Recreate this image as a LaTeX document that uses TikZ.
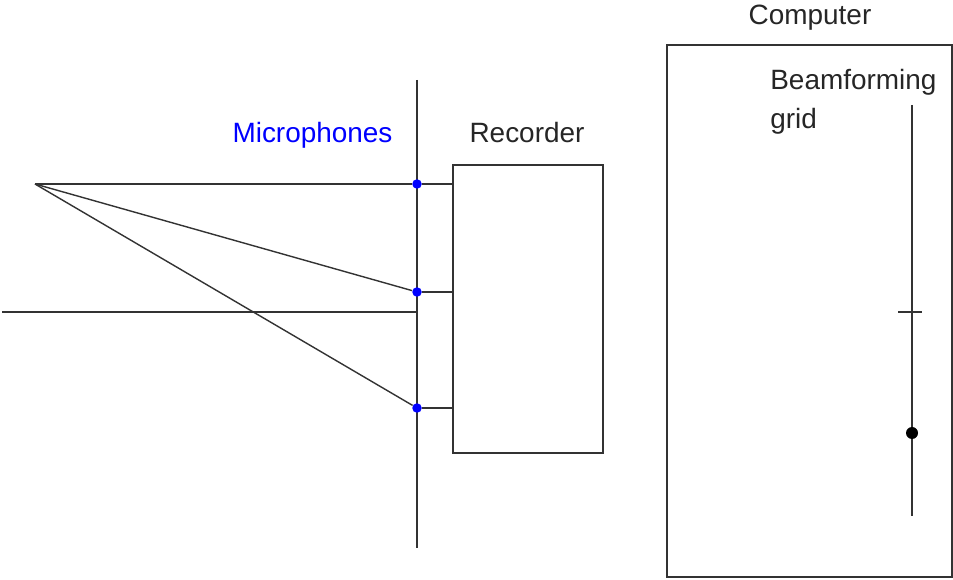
\documentclass[tikz,border=0pt]{standalone}
\usepackage{fontspec}
\setmainfont{Liberation Sans}
\tikzset{
  wire/.style={draw=black!80, line width=0.8pt},
  mic/.style={circle, fill=blue, inner sep=0pt, minimum size=0.19cm},
  box/.style={draw=black!80, line width=0.8pt, rectangle, inner sep=0pt},
  lbl/.style={font=\fontsize{15.9}{22}\selectfont, text=black!85, inner sep=0pt}
}
\begin{document}
\begin{tikzpicture}[x=0.02cm, y=-0.02cm]
	  \useasboundingbox (0,0) rectangle (953,580);

	  % recorder and computer
	  \node[box, minimum width=3cm, minimum height=5.76cm] (rec) at (528,309) {};
	  \node[box, minimum width=5.7cm, minimum height=10.64cm] (comp) at (809.5,311) {};

	  % microphone array and axis
	  \draw[wire] (417,80) coordinate(atop) -- (417,548) coordinate(abot);
	  \draw[wire] (2,312) coordinate(axl) -- (417,312) coordinate(axr);
	  \coordinate (src) at (35,184);

	  \node[mic] (m1) at (417,184) {};
	  \node[mic] (m2) at (417,292) {};
	  \node[mic] (m3) at (417,408) {};

	  \foreach \m in {m1,m2,m3} \draw[wire] (src) -- (\m);
	  \foreach \m in {m1,m2,m3} \draw[wire] (\m) -- (\m -| rec.west);

	  % beamforming grid
	  \draw[wire] (912,105) coordinate(gtop) -- (912,516) coordinate(gbot);
	  \draw[wire] (898,312) coordinate(tl) -- (922,312) coordinate(tr);
	  \node[circle, fill=black, inner sep=0pt, minimum size=0.24cm] (pt) at (912,433) {};

	  \node[lbl, anchor=base, text=blue] (miclbl) at (312.5,143) {Microphones};
	  \node[lbl, anchor=base] (reclbl) at (527,143) {Recorder};
	  \node[lbl, anchor=base] (complbl) at (810,25) {Computer};
	  \node[lbl, anchor=north west, align=left] (gridlbl) at (770,69) {Beamforming\\grid};

	\end{tikzpicture}
\end{document}
